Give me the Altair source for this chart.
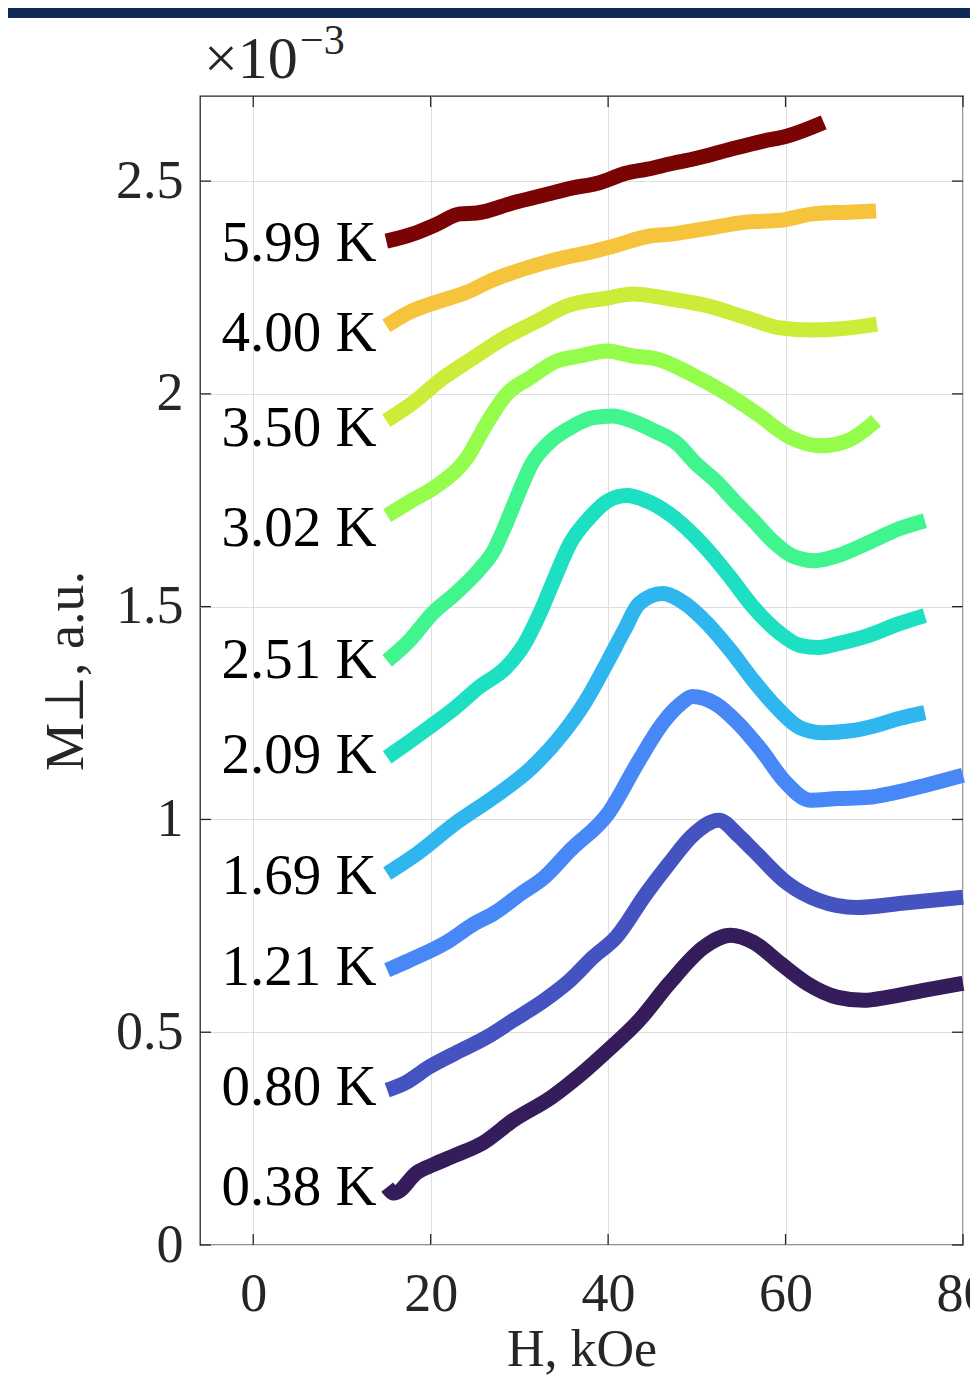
import altair as alt
import pandas as pd

FONT = "Liberation Serif"

temps = ["0.38 K", "0.80 K", "1.21 K", "1.69 K", "2.09 K",
         "2.51 K", "3.02 K", "3.50 K", "4.00 K", "5.99 K"]
colors = ["#351d5b", "#4453bf", "#4788f6", "#30b6ee", "#1ddfc2",
          "#40f48e", "#94fc4a", "#cbec38", "#f6c43c", "#7a0403"]

# H in kOe, M in units of 1e-3 a.u.
H_038 = [15.1, 15.9, 18.5, 20.2, 22.8, 25.9, 29.3, 33.6, 37.1, 40.0, 43.5, 46.9, 50.8, 53.8, 56.4, 59.4, 62.4, 65.9, 68.8, 71.4, 75.7, 80.0]
M_038 = [0.136, 0.122, 0.171, 0.188, 0.211, 0.240, 0.293, 0.347, 0.404, 0.458, 0.528, 0.615, 0.700, 0.728, 0.711, 0.662, 0.615, 0.582, 0.575, 0.582, 0.599, 0.615]

H_080 = [15.1, 17.3, 19.8, 22.8, 26.3, 29.3, 32.8, 35.7, 38.3, 40.9, 44.3, 46.9, 49.5, 52.5, 54.7, 56.4, 60.2, 63.7, 68.0, 73.1, 80.0]
M_080 = [0.364, 0.383, 0.418, 0.451, 0.488, 0.528, 0.575, 0.622, 0.676, 0.723, 0.826, 0.897, 0.962, 0.998, 0.962, 0.927, 0.850, 0.810, 0.793, 0.803, 0.817]

H_121 = [15.1, 17.6, 21.6, 25.0, 27.1, 30.2, 32.8, 35.7, 40.0, 43.5, 46.1, 48.2, 49.5, 52.1, 54.7, 57.3, 59.8, 62.8, 65.9, 69.3, 72.3, 75.7, 80.0]
M_121 = [0.646, 0.669, 0.709, 0.756, 0.779, 0.826, 0.864, 0.927, 1.014, 1.139, 1.225, 1.272, 1.289, 1.272, 1.225, 1.162, 1.092, 1.045, 1.049, 1.052, 1.063, 1.080, 1.104]

H_169 = [15.1, 18.5, 22.8, 27.1, 31.4, 34.9, 37.5, 40.0, 41.8, 43.5, 46.1, 48.7, 51.2, 53.8, 56.4, 59.0, 61.6, 64.2, 67.6, 70.2, 72.8, 75.7]
M_169 = [0.873, 0.920, 0.991, 1.052, 1.122, 1.202, 1.279, 1.373, 1.444, 1.507, 1.531, 1.507, 1.460, 1.397, 1.326, 1.263, 1.216, 1.204, 1.209, 1.221, 1.237, 1.251]

H_209 = [15.1, 17.3, 19.8, 22.8, 25.4, 28.5, 30.6, 32.3, 34.0, 35.7, 37.9, 40.0, 42.1, 44.3, 46.9, 49.5, 51.6, 53.8, 56.4, 59.4, 61.6, 63.7, 65.9, 69.3, 72.8, 75.7]
M_209 = [1.146, 1.178, 1.216, 1.263, 1.310, 1.357, 1.413, 1.484, 1.568, 1.648, 1.709, 1.749, 1.761, 1.749, 1.718, 1.671, 1.624, 1.568, 1.498, 1.437, 1.409, 1.404, 1.413, 1.432, 1.460, 1.479]

H_251 = [15.1, 17.6, 20.2, 22.8, 25.4, 27.1, 28.5, 29.7, 31.4, 33.6, 35.7, 38.3, 40.5, 42.6, 45.2, 47.8, 49.9, 52.1, 54.2, 56.4, 58.5, 60.7, 63.3, 65.9, 69.3, 72.8, 75.7]
M_251 = [1.373, 1.420, 1.484, 1.531, 1.585, 1.631, 1.695, 1.756, 1.836, 1.890, 1.920, 1.944, 1.948, 1.937, 1.913, 1.883, 1.836, 1.796, 1.749, 1.702, 1.655, 1.620, 1.608, 1.620, 1.650, 1.683, 1.702]

H_302 = [15.1, 17.6, 20.7, 24.1, 26.3, 28.6, 31.2, 34.2, 36.8, 39.9, 42.8, 45.5, 49.3, 53.4, 56.8, 60.6, 64.0, 67.0, 70.2]
M_302 = [1.714, 1.746, 1.784, 1.850, 1.930, 2.000, 2.038, 2.077, 2.089, 2.101, 2.089, 2.082, 2.047, 2.000, 1.953, 1.897, 1.878, 1.890, 1.937]

H_350 = [15.0, 18.0, 21.0, 24.7, 28.1, 32.0, 35.4, 39.9, 42.8, 47.0, 51.2, 55.7, 59.4, 62.8, 66.2, 70.3]
M_350 = [1.937, 1.979, 2.031, 2.083, 2.129, 2.171, 2.207, 2.225, 2.235, 2.223, 2.207, 2.178, 2.155, 2.150, 2.153, 2.164]

H_400 = [15.0, 17.6, 21.0, 24.1, 26.7, 30.4, 35.4, 38.0, 40.6, 44.7, 47.3, 50.7, 55.7, 59.4, 63.1, 67.0, 70.2]
M_400 = [2.160, 2.192, 2.218, 2.239, 2.265, 2.293, 2.322, 2.333, 2.347, 2.371, 2.376, 2.387, 2.404, 2.408, 2.423, 2.427, 2.430]

H_599 = [15.0, 18.0, 20.7, 23.3, 25.2, 29.3, 33.1, 36.0, 38.8, 42.1, 44.4, 47.3, 49.6, 53.8, 57.5, 60.2, 64.3]
M_599 = [2.359, 2.376, 2.399, 2.423, 2.425, 2.449, 2.469, 2.484, 2.495, 2.519, 2.528, 2.542, 2.552, 2.575, 2.594, 2.606, 2.638]

label_M = [0.134, 0.369, 0.650, 0.864, 1.150, 1.373, 1.683, 1.918, 2.141, 2.352]
label_H = 13.9

x_ticks = [0, 20, 40, 60, 80]
y_ticks = [0, 0.5, 1, 1.5, 2, 2.5]

series = [(H_038, M_038), (H_080, M_080), (H_121, M_121), (H_169, M_169), (H_209, M_209),
          (H_251, M_251), (H_302, M_302), (H_350, M_350), (H_400, M_400), (H_599, M_599)]

rows = []
for t, (hs, ms) in zip(temps, series):
    for h, m in zip(hs, ms):
        rows.append({"T": t, "H": h, "M": m})
df = pd.DataFrame(rows)
df_lab = pd.DataFrame({"T": temps, "M": label_M, "H": [label_H] * len(temps)})
df_xt = pd.DataFrame({"H": x_ticks})
df_yt = pd.DataFrame({"M": y_ticks})

W, Hh = 763, 1149
xscale = alt.Scale(domain=[-6, 80], nice=False, zero=False)
yscale = alt.Scale(domain=[0, 2.7], nice=False, zero=False)

x_axis = alt.Axis(values=x_ticks, title="H, kOe", grid=True, ticks=False, domain=False,
                  labelFont=FONT, labelFontSize=54, labelColor="#262626", labelPadding=22,
                  titleFont=FONT, titleFontSize=52, titleFontWeight="normal", titleColor="#262626",
                  titlePadding=3, gridColor="#dedede", gridWidth=1, labelFlush=False)
y_axis = alt.Axis(values=y_ticks, title="M⊥, a.u.", grid=True, ticks=False, domain=False, format=".1~f",
                  labelFont=FONT, labelFontSize=54, labelColor="#262626", labelPadding=17,
                  titleFont=FONT, titleFontSize=54, titleFontWeight="normal", titleColor="#262626",
                  titlePadding=22, gridColor="#dedede", gridWidth=1)

X = alt.X("H:Q", scale=xscale, axis=x_axis)
Y = alt.Y("M:Q", scale=yscale, axis=y_axis)

lines = alt.Chart(df).mark_line(strokeWidth=15, strokeCap="butt", strokeJoin="round",
                                interpolate="monotone").encode(
    x=X, y=Y,
    color=alt.Color("T:N", scale=alt.Scale(domain=temps, range=colors), legend=None),
)

labels = alt.Chart(df_lab).mark_text(align="right", baseline="middle", font=FONT,
                                     fontSize=57, color="#000000").encode(
    x=X, y=Y, text="T:N",
)

tick_style = dict(color="#262626", strokeWidth=1.3)
xt_bot = alt.Chart(df_xt).mark_rule(**tick_style).encode(
    x=X, y=alt.value(Hh), y2=alt.value(Hh - 11))
xt_top = alt.Chart(df_xt).mark_rule(**tick_style).encode(
    x=X, y=alt.value(0), y2=alt.value(11))
yt_left = alt.Chart(df_yt).mark_rule(**tick_style).encode(
    y=Y, x=alt.value(0), x2=alt.value(11))
yt_right = alt.Chart(df_yt).mark_rule(**tick_style).encode(
    y=Y, x=alt.value(W), x2=alt.value(W - 11))

one = pd.DataFrame({"a": [0]})
band = alt.Chart(one).mark_rect(color="#0f2a57").encode(
    x=alt.value(-200), x2=alt.value(W + 20), y=alt.value(-96), y2=alt.value(-78))
exp_base = alt.Chart(one).mark_text(text="×10", align="left", baseline="alphabetic", font=FONT,
                                    fontSize=60, color="#262626").encode(
    x=alt.value(4), y=alt.value(-18))
exp_pow = alt.Chart(one).mark_text(text="−3", align="left", baseline="alphabetic", font=FONT,
                                   fontSize=42, color="#262626").encode(
    x=alt.value(100), y=alt.value(-42))

chart = alt.layer(band, lines, labels, xt_bot, xt_top, yt_left, yt_right, exp_base, exp_pow).properties(
    width=W, height=Hh,
    autosize=alt.AutoSizeParams(type="none"),
    padding={"left": 192, "top": 88, "right": 7, "bottom": 132},
).configure(background="white").configure_view(stroke="#262626", strokeWidth=1.3)

chart.save("out.html", embed_options={"renderer": "svg", "actions": False})
